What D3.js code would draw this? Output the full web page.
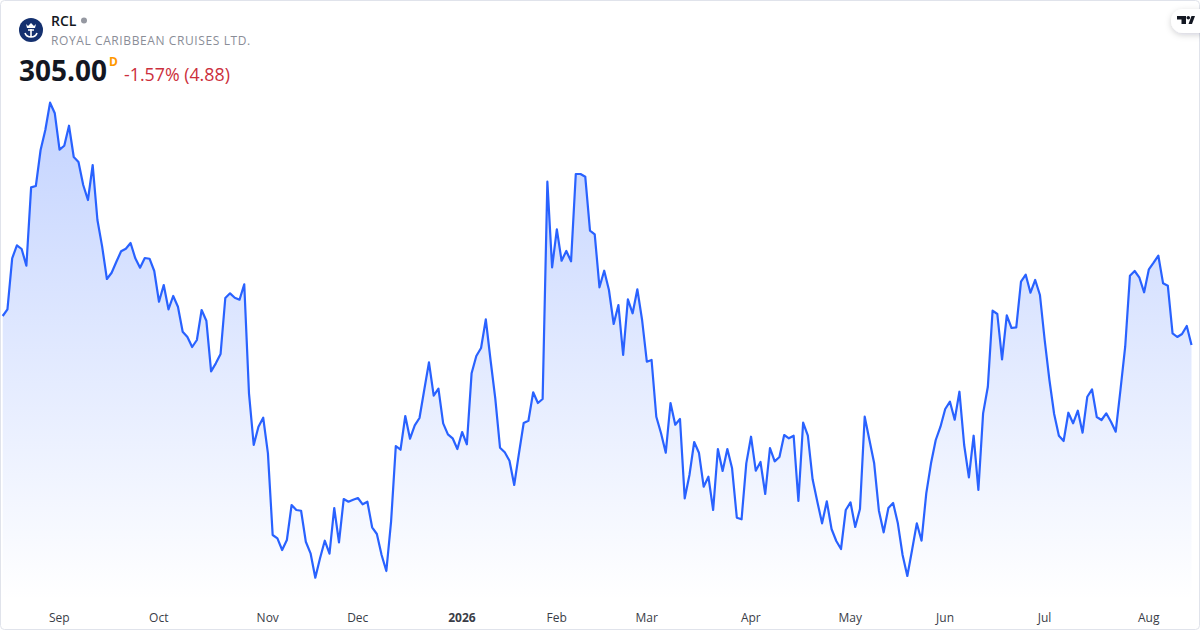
<!DOCTYPE html>
<html>
  <head>
    <meta charset="utf-8" />
    <script src="https://d3js.org/d3.v7.min.js"></script>
    <title>RCL</title>
    <style>
        html, body { margin: 0; padding: 0; background: #fff; }
        svg { display: block; font-family: "Open Sans", sans-serif; }
        .tick text { font-size: 12px; fill: #3a3d47; }
    </style>
  </head>
  <body>

    <svg id="chart" width="1200" height="630"></svg>

    <script>
        // daily closes
        var closes = [
            312.25,313.92,326.67,329.92,329.0,324.82,344.42,344.75,353.75,358.75,
            365.58,362.92,353.83,354.82,359.82,352.0,350.75,345.0,341.25,350.0,
            336.25,329.58,321.5,323.07,325.82,328.42,329.07,330.5,326.67,324.32,
            326.75,326.57,323.5,315.82,320.0,313.92,317.25,314.57,308.32,307.0,
            304.5,306.25,313.75,311.07,298.42,300.42,302.75,316.75,317.92,316.82,
            316.32,320.17,292.92,280.0,284.57,286.82,277.92,257.5,256.67,253.75,
            256.25,265.0,263.75,263.57,255.82,252.92,246.82,251.67,256.07,252.82,
            264.25,255.67,266.5,265.82,266.32,266.75,265.17,265.82,259.42,257.75,
            252.5,248.5,260.82,279.75,278.82,287.25,281.57,284.92,286.75,293.75,
            300.67,292.32,294.07,285.42,282.67,281.67,279.0,283.25,280.17,297.92,
            302.25,304.25,311.42,301.25,291.67,279.32,278.17,276.07,270.0,277.92,
            285.5,286.07,293.17,290.5,291.5,345.82,324.42,333.92,326.07,328.5,
            325.92,347.75,347.75,347.07,333.57,332.67,319.42,323.57,318.75,310.25,
            315.0,302.5,316.42,312.92,318.92,311.25,300.82,301.25,287.07,282.92,
            278.07,290.5,285.07,286.5,266.67,272.5,280.75,278.07,269.57,272.07,
            263.75,279.0,273.5,279.0,274.17,261.82,261.42,275.42,282.07,273.57,
            275.75,267.75,279.25,275.92,277.0,282.5,281.67,282.32,266.0,285.57,
            282.32,271.42,265.82,260.42,265.92,259.0,256.0,254.0,263.75,265.67,
            259.5,264.0,287.07,281.25,275.42,263.57,258.17,264.25,265.5,260.42,
            252.5,247.25,253.75,260.42,256.07,267.92,275.42,281.25,284.57,289.0,
            290.82,286.32,293.32,280.0,271.92,282.32,268.75,287.92,294.57,313.57,
            312.75,301.42,312.42,309.25,309.42,320.82,322.57,318.07,321.25,317.5,
            306.25,296.25,287.75,282.32,281.0,288.07,285.42,288.57,283.07,292.07,
            293.92,287.0,286.25,287.92,285.82,283.32,293.75,304.57,322.32,323.5,
            321.82,318.17,323.92,325.57,327.32,320.42,319.82,307.92,307.0,307.75,
            309.75,305.0
        ];

        // first trading day of each month, as an index into closes
        var tickIndex = [12, 33, 56, 75, 97, 117, 136, 158, 179, 199, 220, 242];
        var tickLabels = ["Sep", "Oct", "Nov", "Dec", "2026", "Feb", "Mar", "Apr", "May", "Jun", "Jul", "Aug"];

        var svg = d3.select("#chart");

        var x = d3.scaleLinear().domain([0, closes.length - 1]).range([2.7, 1191.5]);
        var y = d3.scaleLinear().domain([240, 370]).range([605, 85]);

        // area fill gradient
        var grad = svg.append("defs").append("linearGradient")
            .attr("id", "fill")
            .attr("gradientUnits", "userSpaceOnUse")
            .attr("x1", 0).attr("x2", 0)
            .attr("y1", y(365.58)).attr("y2", 600);
        grad.append("stop").attr("offset", 0).attr("stop-color", "#2962ff").attr("stop-opacity", 0.28);
        grad.append("stop").attr("offset", 1).attr("stop-color", "#2962ff").attr("stop-opacity", 0.0);

        var area = d3.area()
            .x(function(d, i){ return x(i); })
            .y0(600)
            .y1(function(d){ return y(d); });

        var line = d3.line()
            .x(function(d, i){ return x(i); })
            .y(function(d){ return y(d); });

        svg.append("path").datum(closes).attr("d", area).attr("fill", "url(#fill)");
        svg.append("path").datum(closes).attr("d", line)
            .attr("fill", "none")
            .attr("stroke", "#2962ff")
            .attr("stroke-width", 2.2)
            .attr("stroke-linejoin", "round");

        // month labels only, no axis line
        var axis = d3.axisBottom(x)
            .tickValues(tickIndex)
            .tickSize(0)
            .tickPadding(0)
            .tickFormat(function(d, i){ return tickLabels[i]; });
        var gx = svg.append("g").attr("transform", "translate(-0.7,613)").call(axis);
        gx.select(".domain").remove();
        gx.selectAll("text")
            .style("font-family", '"Open Sans", sans-serif')
            .style("font-weight", function(d, i){ return tickLabels[i] == "2026" ? 700 : 400; });

        // frame
        svg.append("rect")
            .attr("x", 0.5).attr("y", 0.5)
            .attr("width", 1199).attr("height", 629)
            .attr("rx", 4)
            .attr("fill", "none")
            .attr("stroke", "#e0e3eb");

        // header
        svg.append("text").attr("x", 51).attr("y", 26)
            .attr("font-size", 14).attr("font-weight", 600).attr("fill", "#131722").text("RCL");
        svg.append("circle").attr("cx", 84).attr("cy", 20.5).attr("r", 3).attr("fill", "#9598a1");
        svg.append("text").attr("x", 51).attr("y", 45)
            .attr("font-size", 12).attr("letter-spacing", 0.6).attr("fill", "#8a8d97")
            .text("ROYAL CARIBBEAN CRUISES LTD.");
        svg.append("text").attr("x", 19).attr("y", 81)
            .attr("font-size", 28).attr("font-weight", 700).attr("fill", "#131722").text("305.00");
        svg.append("text").attr("x", 109).attr("y", 66)
            .attr("font-size", 12).attr("font-weight", 700).attr("fill", "#ff9800").text("D");
        svg.append("text").attr("x", 124).attr("y", 81)
            .attr("font-size", 17.8).attr("fill", "#cc2f3c").text("-1.57% (4.88)");

        // company logo
        var logo = svg.append("g").attr("transform", "translate(31,30)");
        logo.append("circle").attr("r", 12).attr("fill", "#14306f");
        logo.append("path")
            .attr("d", "M-5,-6 L-3,-4 L0,-7 L3,-4 L5,-6 L4,-2 L-4,-2 Z")
            .attr("fill", "#fff");
        logo.append("path")
            .attr("d", "M0,-1 V7 M-3,0 H3 M-6,3 C-5,6 -3,7 0,7 C3,7 5,6 6,3")
            .attr("fill", "none").attr("stroke", "#fff").attr("stroke-width", 1.6);

        // tradingview badge
        var shadow = svg.select("defs").append("filter").attr("id", "soft")
            .attr("x", "-50%").attr("y", "-50%").attr("width", "200%").attr("height", "200%");
        shadow.append("feDropShadow")
            .attr("dx", 0).attr("dy", 2).attr("stdDeviation", 3)
            .attr("flood-color", "#131722").attr("flood-opacity", 0.18);
        svg.append("rect")
            .attr("x", 1171).attr("y", 9).attr("width", 40).attr("height", 24).attr("rx", 12)
            .attr("fill", "#fff").attr("filter", "url(#soft)");
        svg.append("path")
            .attr("d", "M1177,16 H1186 V24 H1181.5 V19.5 H1177 Z M1188.5,24 L1191.5,16 H1195 L1192,24 Z")
            .attr("fill", "#131722");
        svg.append("circle").attr("cx", 1188.3).attr("cy", 17.8).attr("r", 1.8).attr("fill", "#131722");
    </script>

  </body>
</html>
